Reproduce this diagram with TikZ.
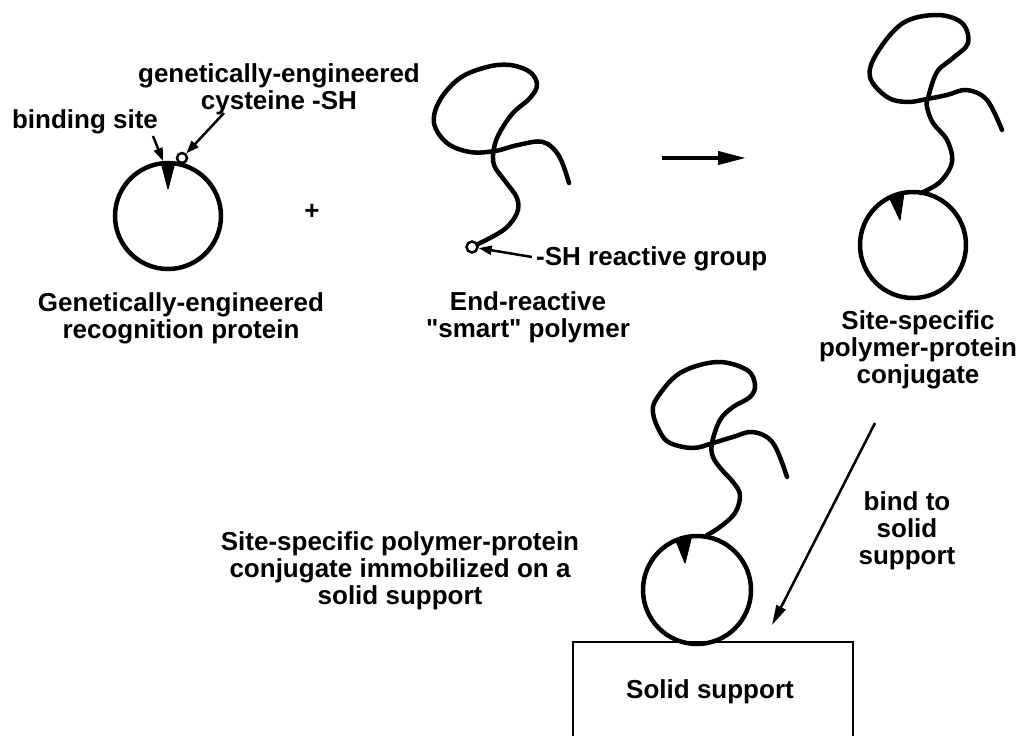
\documentclass[tikz,border=0pt]{standalone}
\usepackage{fontspec}
\setmainfont{Liberation Sans}
\usetikzlibrary{arrows.meta}
\font\qfont="Liberation Sans/B" at 26pt
\begin{document}
\begin{tikzpicture}[x=1pt,y=-1pt,
  lbl/.style={font=\fontsize{26}{27}\selectfont\bfseries, align=center, inner sep=0pt},
  protein/.style={circle, draw, line width=4.5pt, minimum size=106pt, inner sep=0pt},
  chain/.style={line width=4.5pt, line cap=round, line join=round},
  pointer/.style={line width=2.5pt, -{Triangle[length=13pt,width=9pt]}},
  notch/.style={fill=black, draw=black, line width=1pt, line join=round},
  endgroup/.style={circle, draw, line width=2.5pt, minimum size=10pt, inner sep=0pt, fill=white}
]
\useasboundingbox (0,0) rectangle (1020,736);

% --- recognition protein ---
\node[protein] (p1) at (168,216) {};
\draw[notch] (161,162) -- (175,162) -- (168,189) -- cycle;
\node[endgroup] (cys) at (182,158) {};
\node[lbl] (bsl) at (85,122) {binding site};
\node[lbl] (cysl) at (279,89) {genetically-engineered\\cysteine -SH};
\coordinate (bstail) at (153,136);
\coordinate (bstip) at (163,161);
\coordinate (cystail) at (224,113);
\draw[pointer] (bstail) -- (bstip);
\draw[pointer] (cystail) -- (cys);
\node[lbl] (p1l) at (181,318) {Genetically-engineered\\recognition protein};

\node[lbl] (plus) at (312,212) {+};

% --- end-reactive polymer ---
\node[endgroup, minimum size=11pt] (sh) at (472,247) {};
\draw[chain] plot[smooth, tension=0.6] coordinates {(478,244) (490,238) (506,228) (517,213) (517,198) (505,181) (494,165) (494,148) (500,132) (513,113) (530,98) (537,85) (530,72) (510,65) (487,67) (460,78) (440,100) (434,123) (447,143) (470,152) (495,151) (518,145) (543,142) (559,156) (569,183)};
\coordinate (shtail) at (532,257);
\draw[pointer] (shtail) -- (sh);
\node[lbl, anchor=west] (shl) at (536,259) {-SH reactive group};
\node[lbl] (pl) at (528,317) {End-reactive\\{\qfont"}smart{\qfont"} polymer};

% --- reaction arrow ---
\coordinate (ra1) at (662,158);
\coordinate (ra2) at (746,158);
\draw[line width=4pt, -{Triangle[length=28pt,width=13pt]}] (ra1) -- (ra2);

% --- conjugate ---
\node[protein] (p2) at (913,245) {};
\draw[notch] (890,199) -- (904,193) -- (900,220) -- cycle;
\draw[chain] plot[smooth, tension=0.6] coordinates {(921,193) (940,182) (952,162) (947,140) (933,123) (927,107) (928,98) (937,72) (953,58) (968,43) (962,23) (937,15) (903,23) (877,53) (870,77) (887,97) (907,102) (927,99) (947,95) (967,90) (987,100) (1002,130)};
\node[lbl] (c1l) at (918,350) {Site-specific\\polymer-protein\\conjugate};

% --- bind arrow ---
\coordinate (ba1) at (875,423);
\coordinate (ba2) at (772,625);
\draw[line width=2.5pt, -{Triangle[length=20pt,width=10pt]}] (ba1) -- (ba2);
\node[lbl] (bl) at (907,531) {bind to\\solid\\support};

% --- immobilized conjugate ---
\node[protein, minimum size=108pt] (p3) at (697,590) {};
\draw[notch] (676,541) -- (692,535) -- (685,563) -- cycle;
\draw[chain] plot[smooth, tension=0.6] coordinates {(707,535) (720,527) (735,513) (740,495) (733,482) (722,470) (713,457) (712,443) (720,420) (733,407) (750,397) (755,385) (747,370) (717,362) (680,373) (657,398) (653,413) (660,432) (670,443) (693,448) (713,443) (733,437) (753,432) (773,443) (787,477)};
\node[lbl] (c2l) at (400,571) {Site-specific polymer-protein\\conjugate immobilized on a\\solid support};

% --- solid support ---
\draw[line width=1.8pt] (573,736) -- (573,642) -- (853,642) -- (853,736);
\node[lbl] (ssl) at (710,692) {Solid support};
\end{tikzpicture}
\end{document}
